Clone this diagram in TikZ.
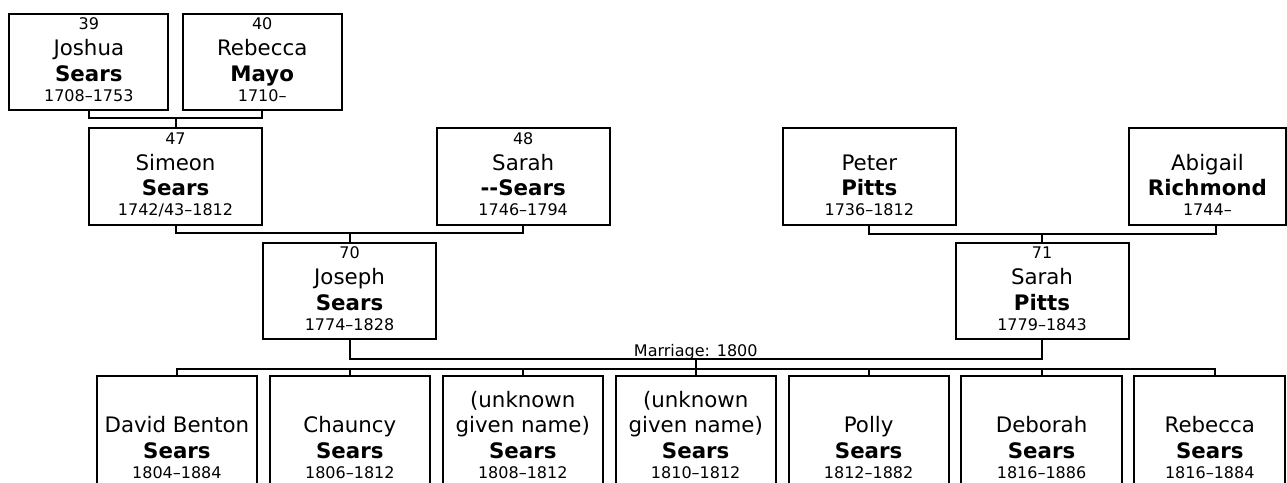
\documentclass[tikz,border=0pt]{standalone}
\usepackage{fontspec}
\setmainfont{DejaVu Sans}
\usetikzlibrary{positioning}

\newcommand{\namefont}{\fontsize{16}{19}\selectfont}
\newcommand{\smallfont}{\fontsize{12}{14}\selectfont}
\newcommand{\pnum}[1]{{\smallfont #1}}
\newcommand{\pdates}[1]{{\smallfont #1\rule[-4pt]{0pt}{4pt}}}

\tikzset{
  basebox/.style={
    rectangle, draw=black, line width=1.5pt, fill=white, align=center,
    font=\namefont, inner sep=1pt, outer sep=0pt
  },
  topbox/.style={basebox, minimum width=119.25pt, minimum height=72.2pt},
  personbox/.style={basebox, minimum width=129.75pt, minimum height=72.6pt},
  childbox/.style={basebox, minimum width=120.2pt, minimum height=92.25pt},
  link/.style={draw=black, line width=1.5pt},
  marriage/.style={font=\smallfont, inner sep=0pt}
}

\begin{document}
\begin{tikzpicture}[x=0.75pt, y=-0.75pt, node distance=9.5pt]
  \fill[white] (0,0) rectangle (1287,482);
  \useasboundingbox (0,0) rectangle (1287,482);

  % great-grandparents
  \node[topbox] (joshua) at (88.8,61.9)
        {\pnum{39}\\[0.75pt] Joshua\\ \textbf{Sears}\\[-4pt] \pdates{1708--1753}};
  \node[topbox, right=10.8pt of joshua] (rebeccam)
        {\pnum{40}\\[0.75pt] Rebecca\\ \textbf{Mayo}\\[-4pt] \pdates{1710--}};

  % grandparents
  \node[personbox] (simeon) at (175.5,176.8)
        {\pnum{47}\\[0.75pt] Simeon\\ \textbf{Sears}\\[-4pt] \pdates{1742/43--1812}};
  \node[personbox] (sarahs) at (523.2,176.8)
        {\pnum{48}\\[0.75pt] Sarah\\ \textbf{-{}-Sears}\\[-4pt] \pdates{1746--1794}};
  \node[personbox] (peter) at (869.3,176.8)
        {\pnum{\vphantom{0}}\\[0.75pt] Peter\\ \textbf{Pitts}\\[-4pt] \pdates{1736--1812}};
  \node[personbox, minimum width=117.15pt] (abigail) at (1207.4,176.8)
        {\pnum{\vphantom{0}}\\[0.75pt] Abigail\\ \textbf{Richmond}\\[-4pt] \pdates{1744--}};

  % parents
  \node[personbox] (joseph) at (349.5,291)
        {\pnum{70}\\[0.75pt] Joseph\\ \textbf{Sears}\\[-4pt] \pdates{1774--1828}};
  \node[personbox] (sarahp) at (1042,291)
        {\pnum{71}\\[0.75pt] Sarah\\ \textbf{Pitts}\\[-4pt] \pdates{1779--1843}};

  % children
  \node[childbox] (david) at (176.9,437.5)
        {\vphantom{(}\\ David Benton\\ \textbf{Sears}\\[-4pt] \pdates{1804--1884}};
  \node[childbox, right=of david] (chauncy)
        {\vphantom{(}\\ Chauncy\\ \textbf{Sears}\\[-4pt] \pdates{1806--1812}};
  \node[childbox, right=of chauncy] (unknowna)
        {(unknown\\ given name)\\ \textbf{Sears}\\[-4pt] \pdates{1808--1812}};
  \node[childbox, right=of unknowna] (unknownb)
        {(unknown\\ given name)\\ \textbf{Sears}\\[-4pt] \pdates{1810--1812}};
  \node[childbox, right=of unknownb] (polly)
        {\vphantom{(}\\ Polly\\ \textbf{Sears}\\[-4pt] \pdates{1812--1882}};
  \node[childbox, right=of polly] (deborah)
        {\vphantom{(}\\ Deborah\\ \textbf{Sears}\\[-4pt] \pdates{1816--1886}};
  \node[childbox, right=of deborah, minimum width=113.1pt] (rebeccas)
        {\vphantom{(}\\ Rebecca\\ \textbf{Sears}\\[-4pt] \pdates{1816--1884}};

  % family lines
  \draw[link] (joshua.south) -- ++(0,8) -| (rebeccam.south);
  \draw[link] (simeon.north) -- ++(0,-10.3);
  \draw[link] (simeon.south) -- ++(0,7.5) -| (sarahs.south);
  \draw[link] (joseph.north) -- ++(0,-9.6);
  \draw[link] (peter.south) -- ++(0,8.5) -| ([xshift=6.45pt]abigail.south);
  \draw[link] (sarahp.north) -- ++(0,-8.3);

  \draw[link] (joseph.south) -- ++(0,20) -| (sarahp.south);
  \node[marriage, anchor=base] (wedding) at (695.75,356.5) {Marriage: 1800};

  \draw[link] (david.north) -- ++(0,-7.3) -| ([xshift=3.6pt]rebeccas.north);
  \foreach \kid in {chauncy, unknowna, polly, deborah}
    \draw[link] (\kid.north) -- ++(0,-7.3);
  \draw[link] (unknownb.north) -- ++(0,-16.7);
\end{tikzpicture}
\end{document}
